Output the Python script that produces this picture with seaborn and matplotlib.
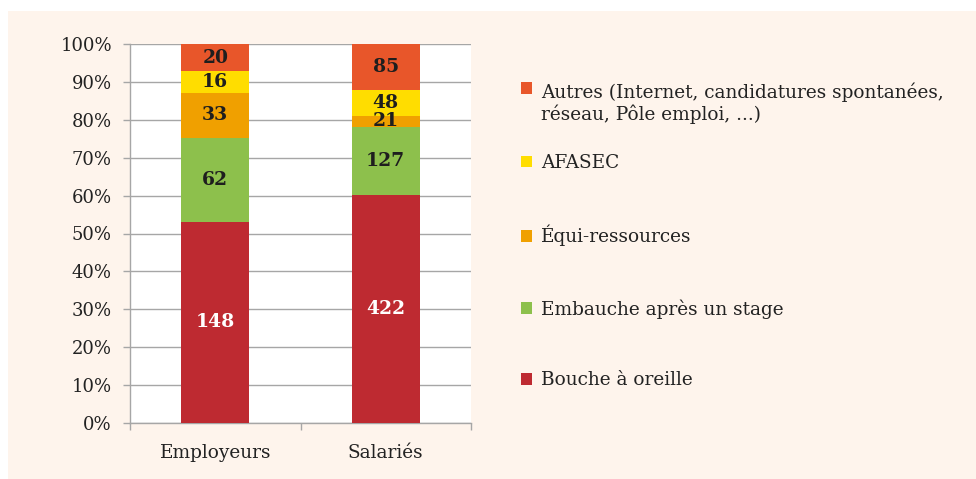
import pandas as pd
import numpy as np
import matplotlib.pyplot as plt
import seaborn as sns
from matplotlib.patches import Rectangle, Patch


# Data (counts per source of hiring)
categories = ['Employeurs', 'Salariés']
series_names = ['Bouche à oreille', 'Embauche après un stage', 'Équi-ressources', 'AFASEC',
                'Autres (Internet, candidatures spontanées,\nréseau, Pôle emploi, ...)']
bouche = [148, 422]
embauche = [62, 127]
equi = [33, 21]
afasec = [16, 48]
autres = [20, 85]

colors = ['#BE2A31', '#8DC04C', '#F0A000', '#FFDD00', '#E8562A']
text_colors = ['white', '#1E1E1E', '#1E1E1E', '#1E1E1E', '#1E1E1E']

counts = pd.DataFrame([bouche, embauche, equi, afasec, autres], index=series_names, columns=categories)
shares = counts / counts.sum(axis=0)
bottoms = shares.cumsum(axis=0) - shares

sns.set_style('white')
plt.rcParams['font.family'] = ['DejaVu Serif']

fig = plt.figure(figsize=(9.76, 4.79), dpi=100)
fig.patch.set_facecolor('white')
# peach panel behind the chart
fig.add_artist(Rectangle((8 / 976, 0), 1, 468 / 479, transform=fig.transFigure,
                         facecolor='#FEF4EC', edgecolor='none', zorder=0))

ax = fig.add_axes([130 / 976, 56 / 479, 341 / 976, 379 / 479])
ax.set_facecolor('white')

# Stacked 100% bars
for name, col in zip(series_names, colors):
    sns.barplot(x=categories, y=shares.loc[name].values, bottom=bottoms.loc[name].values,
                color=col, width=0.4, linewidth=0, saturation=1, ax=ax, zorder=3)

# Value labels in the middle of each segment
for name, tcol in zip(series_names, text_colors):
    for i, cat in enumerate(categories):
        y = bottoms.loc[name, cat] + shares.loc[name, cat] / 2
        ax.text(i, y, str(counts.loc[name, cat]), ha='center', va='center',
                fontsize=13.5, fontweight='bold', color=tcol, zorder=4)

ax.set_xlim(-0.5, 1.5)
ax.set_ylim(0, 1)
ax.set_yticks(np.arange(0, 1.01, 0.1))
ax.set_yticklabels([f'{int(round(t * 100))}%' for t in np.arange(0, 1.01, 0.1)])
ax.set_xticks([-0.5, 0.5, 1.5], minor=True)
ax.yaxis.grid(True, color='#A6A6A6', lw=1)
ax.set_axisbelow(True)
for s in ['top', 'right']:
    ax.spines[s].set_visible(False)
for s in ['left', 'bottom']:
    ax.spines[s].set_color('#A6A6A6')
    ax.spines[s].set_linewidth(1)
ax.tick_params(axis='y', which='major', direction='out', length=5, width=1, color='#A6A6A6',
               pad=8, labelsize=13, labelcolor='#222222', left=True)
ax.tick_params(axis='x', which='major', length=0, pad=15, labelsize=13.3, labelcolor='#222222')
ax.tick_params(axis='x', which='minor', direction='out', length=5, width=1, color='#A6A6A6', bottom=True)
ax.set_xlabel('')
ax.set_ylabel('')

# Legend: top entry (two lines) on its own, then the other four
leg_kw = dict(frameon=False, fontsize=13.3, handlelength=0.6, handleheight=0.6,
              handletextpad=0.5, borderpad=0, borderaxespad=0, labelcolor='#222222')
h_top = [Patch(facecolor=colors[4], edgecolor='none')]
leg1 = ax.legend(h_top, [series_names[4]], loc='upper left', bbox_to_anchor=(521 / 976, 1 - 82 / 479),
                 bbox_transform=fig.transFigure, **leg_kw)
for col in leg1._legend_handle_box.get_children():
    for hp in col.get_children():
        hp.align = 'top'
ax.add_artist(leg1)

h_rest = [Patch(facecolor=c, edgecolor='none') for c in colors[3::-1]]
ax.legend(h_rest, series_names[3::-1], loc='upper left', bbox_to_anchor=(521 / 976, 1 - 154 / 479),
          bbox_transform=fig.transFigure, labelspacing=2.86, **leg_kw)

plt.savefig('out.png', dpi=100)
